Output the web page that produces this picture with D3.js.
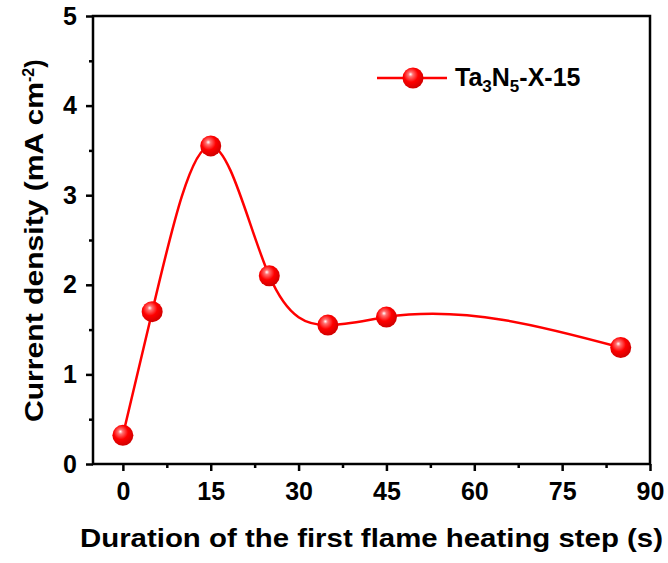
<!DOCTYPE html>
<html><head><meta charset="utf-8">
<script src="https://cdn.jsdelivr.net/npm/d3@7/dist/d3.min.js"></script>
<style>body{margin:0;background:#fff}svg{display:block}text{font-family:"Liberation Sans",Arial,sans-serif;font-weight:bold}</style>
</head><body>
<script>
const durations = [0, 5, 15, 25, 35, 45, 85];
const currentDensity = [0.32, 1.70, 3.55, 2.10, 1.55, 1.64, 1.30];
const xTicks = [0, 15, 30, 45, 60, 75, 90];
const yTicks = [0, 1, 2, 3, 4, 5];
const seriesName = "Ta3N5-X-15";

// custom d3 curve: natural cubic spline y(x) (x-parameterised, like Origin's spline connection)
function curveSplineX(context) {
  let pts;
  return {
    lineStart(){ pts = []; },
    point(x, y){ pts.push([+x, +y]); },
    lineEnd(){
      const n = pts.length;
      if (!n) return;
      context.moveTo(pts[0][0], pts[0][1]);
      if (n < 3) { for (let i=1;i<n;i++) context.lineTo(pts[i][0], pts[i][1]); return; }
      const X = pts.map(p=>p[0]), Y = pts.map(p=>p[1]);
      const h = []; for (let i=0;i<n-1;i++) h.push(X[i+1]-X[i]);
      const A = Array.from({length:n}, ()=>new Array(n).fill(0)), b = new Array(n).fill(0);
      A[0][0] = 1; A[n-1][n-1] = 1;
      for (let i=1;i<n-1;i++){
        A[i][i-1] = h[i-1]; A[i][i] = 2*(h[i-1]+h[i]); A[i][i+1] = h[i];
        b[i] = 6*((Y[i+1]-Y[i])/h[i] - (Y[i]-Y[i-1])/h[i-1]);
      }
      for (let c=0;c<n;c++){
        let p=c; for (let r=c+1;r<n;r++) if (Math.abs(A[r][c])>Math.abs(A[p][c])) p=r;
        [A[c],A[p]]=[A[p],A[c]]; [b[c],b[p]]=[b[p],b[c]];
        for (let r=c+1;r<n;r++){ const f=A[r][c]/A[c][c]; for (let k=c;k<n;k++) A[r][k]-=f*A[c][k]; b[r]-=f*b[c]; }
      }
      const M = new Array(n).fill(0);
      for (let r=n-1;r>=0;r--){ let s=b[r]; for (let k=r+1;k<n;k++) s-=A[r][k]*M[k]; M[r]=s/A[r][r]; }
      for (let i=0;i<n-1;i++){
        const hi=h[i], d=(Y[i+1]-Y[i])/hi;
        const m0 = d - hi*(2*M[i]+M[i+1])/6;
        const m1 = d + hi*(M[i]+2*M[i+1])/6;
        context.bezierCurveTo(X[i]+hi/3, Y[i]+m0*hi/3, X[i+1]-hi/3, Y[i+1]-m1*hi/3, X[i+1], Y[i+1]);
      }
    }
  };
}

const W = 668, H = 563;
const L = 93, R = 650, T = 16, B = 464;
const svg = d3.select("body").append("svg").attr("width", W).attr("height", H);
const defs = svg.append("defs");
const g = defs.append("radialGradient").attr("id","ball").attr("cx","0.42").attr("cy","0.38").attr("r","0.62").attr("fx","0.38").attr("fy","0.32");
g.append("stop").attr("offset","0").attr("stop-color","#ffffff");
g.append("stop").attr("offset","0.18").attr("stop-color","#ff7070");
g.append("stop").attr("offset","0.55").attr("stop-color","#ff0000");
g.append("stop").attr("offset","1").attr("stop-color","#d00000");

const x = d3.scaleLinear().domain([-5.1, 90]).range([L, R]);
const y = d3.scaleLinear().domain([0, 5]).range([B, T]);

// frame
svg.append("rect").attr("x", L).attr("y", T).attr("width", R-L).attr("height", B-T)
  .attr("fill","none").attr("stroke","#000").attr("stroke-width",2.5);

// x axis
const xa = svg.append("g").attr("transform",`translate(0,${B})`)
  .call(d3.axisBottom(x).tickValues(xTicks).tickSize(7).tickSizeOuter(0).tickPadding(11));
xa.select(".domain").remove();
xa.selectAll("line").attr("stroke-width",2.5);
xa.selectAll("text").attr("font-size",25).attr("fill","#000");
const xm = svg.append("g").attr("transform",`translate(0,${B})`)
  .call(d3.axisBottom(x).tickValues(d3.range(7.5, 90, 15)).tickSize(4).tickFormat(""));
xm.select(".domain").remove(); xm.selectAll("line").attr("stroke-width",2.5);

// y axis
const ya = svg.append("g").attr("transform",`translate(${L},0)`)
  .call(d3.axisLeft(y).tickValues(yTicks).tickFormat(d3.format("d")).tickSize(7).tickSizeOuter(0).tickPadding(9));
ya.select(".domain").remove();
ya.selectAll("line").attr("stroke-width",2.5);
ya.selectAll("text").attr("font-size",25).attr("fill","#000");
const ym = svg.append("g").attr("transform",`translate(${L},0)`)
  .call(d3.axisLeft(y).tickValues(d3.range(0.5, 5, 1)).tickSize(4).tickFormat(""));
ym.select(".domain").remove(); ym.selectAll("line").attr("stroke-width",2.5);

// labels
svg.append("text").attr("x", 80).attr("y", 547).attr("font-size",25)
  .attr("textLength",583).attr("lengthAdjust","spacingAndGlyphs")
  .text("Duration of the first flame heating step (s)");
const yl = svg.append("text").attr("transform",`translate(43,422) rotate(-90)`).attr("font-size",25);
yl.append("tspan").attr("textLength",340).attr("lengthAdjust","spacingAndGlyphs").text("Current density (mA cm");
yl.append("tspan").attr("dy",-9).attr("font-size",16).text("-2");
yl.append("tspan").attr("dy",9).text(")");

// curve
const data = durations.map((d,i)=>({x:d, y:currentDensity[i]}));
svg.append("path").datum(data)
  .attr("d", d3.line().x(d=>x(d.x)).y(d=>y(d.y)).curve(curveSplineX))
  .attr("fill","none").attr("stroke","#ff0000").attr("stroke-width",2.5);
svg.selectAll("circle.pt").data(data).join("circle").attr("class","pt")
  .attr("cx", d=>x(d.x)).attr("cy", d=>y(d.y)).attr("r",10.5).attr("fill","url(#ball)");

// legend
const lg = svg.append("g");
lg.append("line").attr("x1",377).attr("x2",447).attr("y1",78).attr("y2",78).attr("stroke","#ff0000").attr("stroke-width",2.5);
lg.append("circle").attr("cx",413).attr("cy",78).attr("r",10.5).attr("fill","url(#ball)");
const lt = lg.append("text").attr("x",455).attr("y",86).attr("font-size",25);
lt.append("tspan").text("Ta");
lt.append("tspan").attr("dy",6).attr("font-size",17).text("3");
lt.append("tspan").attr("dy",-6).text("N");
lt.append("tspan").attr("dy",6).attr("font-size",17).text("5");
lt.append("tspan").attr("dy",-6).text("-X-15");
</script>
</body></html>
